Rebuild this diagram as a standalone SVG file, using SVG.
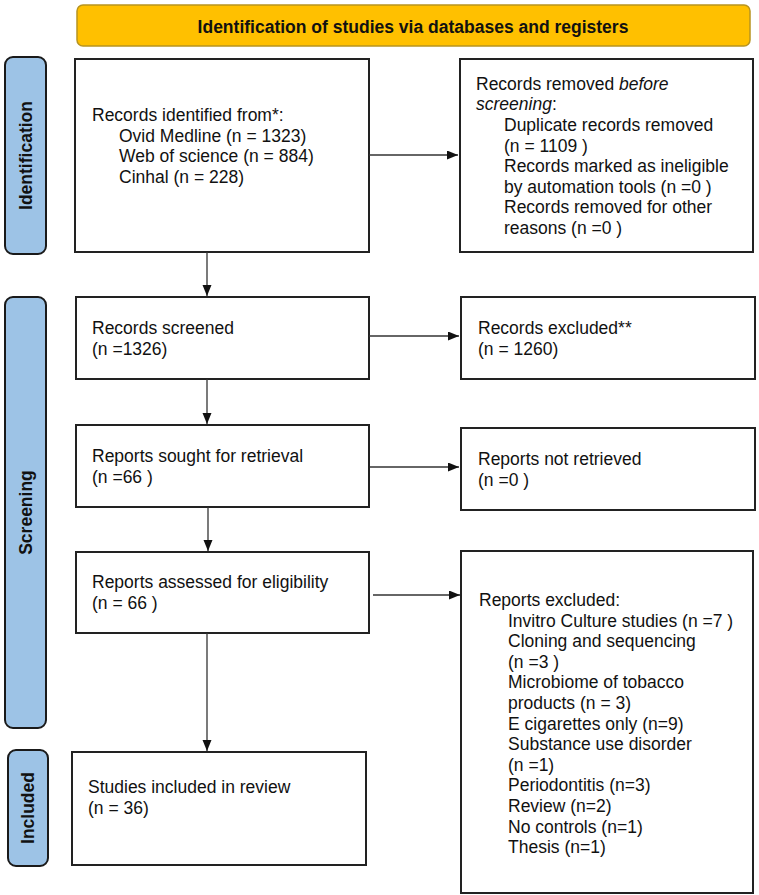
<svg xmlns="http://www.w3.org/2000/svg" width="759" height="895" viewBox="0 0 759 895">
<defs>
<marker id="ah" markerUnits="userSpaceOnUse" markerWidth="12" markerHeight="10" refX="11" refY="4.5" orient="auto">
<path d="M0,0 L11,4.5 L0,9 z" fill="#111"/>
</marker>
<style>
.box{fill:#fff;stroke:#222;stroke-width:2}
.side{fill:#9DC3E6;stroke:#1a1a1a;stroke-width:2}
.t{font-family:"Liberation Sans",Arial,sans-serif;font-size:17.5px;fill:#111}
.sl{font-family:"Liberation Sans",Arial,sans-serif;font-size:17.5px;font-weight:bold;fill:#111;text-anchor:middle}
.c{fill:none;stroke:#333;stroke-width:1.3;marker-end:url(#ah)}
</style>
</defs>
<rect width="759" height="895" fill="#fff"/>
<g id="title">
<rect x="77" y="5" width="673" height="41" rx="6" fill="#FFC000" stroke="#B8941F" stroke-width="1.5"/>
<text x="413" y="33" class="sl">Identification of studies via databases and registers</text>
</g>
<g id="side-identification">
<rect class="side" x="5" y="57" width="41" height="197" rx="8"/>
<text class="sl" transform="translate(25.5,155.5) rotate(-90)" x="0" y="6.3">Identification</text>
</g>
<g id="side-screening">
<rect class="side" x="5" y="297" width="41" height="431" rx="8"/>
<text class="sl" transform="translate(25.5,512.5) rotate(-90)" x="0" y="6.3">Screening</text>
</g>
<g id="side-included">
<rect class="side" x="8" y="750" width="40" height="116" rx="8"/>
<text class="sl" transform="translate(28,808) rotate(-90)" x="0" y="6.3">Included</text>
</g>
<g id="identified">
<rect class="box" x="75" y="59" width="294" height="193"/>
<text class="t" x="92" y="121">Records identified from*:</text>
<text class="t" x="119" y="142">Ovid Medline (n = 1323)</text>
<text class="t" x="119" y="162">Web of science (n = 884)</text>
<text class="t" x="119" y="183">Cinhal (n = 228)</text>
</g>
<g id="removed">
<rect class="box" x="460" y="59" width="293" height="193"/>
<text class="t" x="476" y="90">Records removed <tspan font-style="italic">before</tspan></text>
<text class="t" x="476" y="110"><tspan font-style="italic">screening</tspan>:</text>
<text class="t" x="504" y="131">Duplicate records removed</text>
<text class="t" x="504" y="152">(n = 1109 )</text>
<text class="t" x="504" y="172">Records marked as ineligible</text>
<text class="t" x="504" y="193">by automation tools (n =0 )</text>
<text class="t" x="504" y="213">Records removed for other</text>
<text class="t" x="504" y="234">reasons (n =0 )</text>
</g>
<g id="screened">
<rect class="box" x="76" y="297" width="293" height="82"/>
<text class="t" x="92" y="334">Records screened</text>
<text class="t" x="92" y="355">(n =1326)</text>
</g>
<g id="excluded">
<rect class="box" x="461" y="297" width="294" height="82"/>
<text class="t" x="478" y="334">Records excluded**</text>
<text class="t" x="478" y="355">(n = 1260)</text>
</g>
<g id="sought">
<rect class="box" x="76" y="425" width="293" height="82"/>
<text class="t" x="92" y="462">Reports sought for retrieval</text>
<text class="t" x="92" y="483">(n =66 )</text>
</g>
<g id="not-retrieved">
<rect class="box" x="461" y="428" width="294" height="82"/>
<text class="t" x="478" y="465">Reports not retrieved</text>
<text class="t" x="478" y="486">(n =0 )</text>
</g>
<g id="assessed">
<rect class="box" x="76" y="552" width="293" height="81"/>
<text class="t" x="92" y="588">Reports assessed for eligibility</text>
<text class="t" x="92" y="609">(n = 66 )</text>
</g>
<g id="reports-excluded">
<rect class="box" x="461" y="551" width="292" height="342"/>
<text class="t" x="479" y="606">Reports excluded:</text>
<text class="t" x="508" y="627">Invitro Culture studies (n =7 )</text>
<text class="t" x="508" y="647">Cloning and sequencing</text>
<text class="t" x="508" y="668">(n =3 )</text>
<text class="t" x="508" y="688">Microbiome of tobacco</text>
<text class="t" x="508" y="709">products (n = 3)</text>
<text class="t" x="508" y="730">E cigarettes only (n=9)</text>
<text class="t" x="508" y="750">Substance use disorder</text>
<text class="t" x="508" y="771">(n =1)</text>
<text class="t" x="508" y="791">Periodontitis (n=3)</text>
<text class="t" x="508" y="812">Review (n=2)</text>
<text class="t" x="508" y="833">No controls (n=1)</text>
<text class="t" x="508" y="853">Thesis (n=1)</text>
</g>
<g id="included">
<rect class="box" x="72" y="752" width="294" height="113"/>
<text class="t" x="88" y="793">Studies included in review</text>
<text class="t" x="88" y="814">(n = 36)</text>
</g>
<g id="connectors">
<path class="c" d="M369,155 H458"/>
<path class="c" d="M207,252 V296"/>
<path class="c" d="M369,336 H459"/>
<path class="c" d="M207,379 V424"/>
<path class="c" d="M370,467 H459"/>
<path class="c" d="M208,507 V551"/>
<path class="c" d="M373,595 H460"/>
<path class="c" d="M207,633 V751"/>
</g>
</svg>
